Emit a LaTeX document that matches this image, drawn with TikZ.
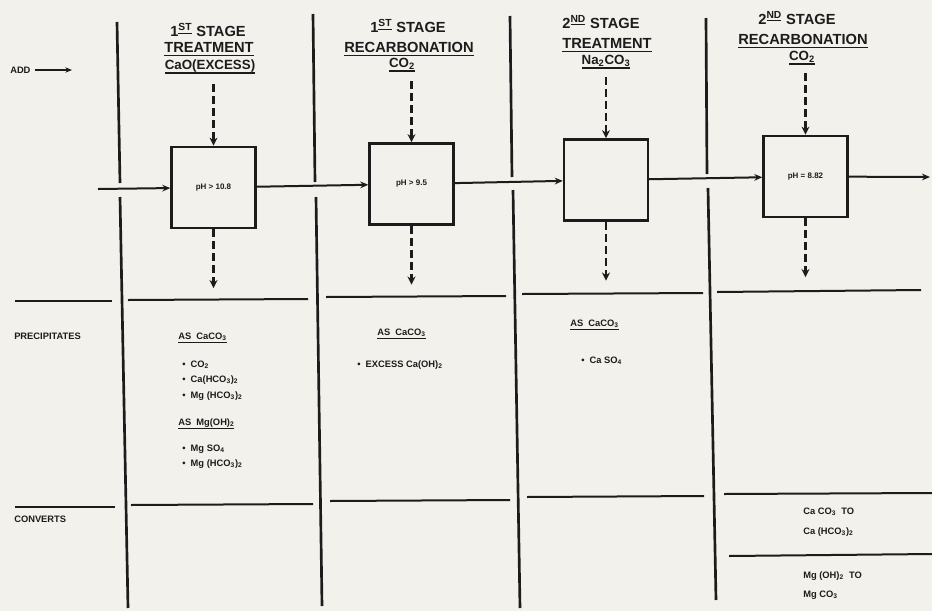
\documentclass[tikz,border=0pt]{standalone}
\usepackage{fontspec}
\setmainfont{Liberation Sans}
\usepackage{tikz}
\usetikzlibrary{arrows.meta, positioning}
\definecolor{ink}{HTML}{1C1C1C}
\definecolor{paper}{HTML}{F3F1EC}
\newcommand{\ulbold}[1]{\setbox0\hbox{#1}\leavevmode\rlap{\rule[-3pt]{\wd0}{1.1pt}}\box0}
\newcommand{\stagenum}[2]{#1\textsuperscript{\underline{#2}}}
\tikzstyle{stagehead} = [font=\bfseries\fontsize{11}{12}\selectfont, text=ink, inner sep=0pt]
\tikzstyle{dosehead}  = [font=\bfseries\fontsize{10}{11}\selectfont, text=ink, inner sep=0pt]
\tikzstyle{chemtext}  = [font=\bfseries\fontsize{7}{8}\selectfont, text=ink, anchor=west, inner sep=0pt]
\tikzstyle{unitbox}   = [draw=ink, line width=1.8pt, fill=paper, minimum width=63pt, minimum height=61pt,
                         inner sep=0pt, font=\bfseries\fontsize{6}{7}\selectfont, text=ink]
\tikzstyle{wallline}  = [draw=ink, line width=2pt]
\tikzstyle{rowrule}   = [draw=ink, line width=1.5pt]
\tikzstyle{flowarrow} = [draw=ink, line width=1.5pt, -{Stealth[length=6pt,width=5pt]}]
\tikzstyle{dosearrow} = [draw=ink, line width=2.2pt, dash pattern=on 6pt off 3pt, -{Stealth[length=6pt,width=6pt]}]

\begin{document}
\begin{tikzpicture}[x=0.75pt, y=-0.75pt]

  \useasboundingbox (0,0) rectangle (932,611);
  \fill[paper] (0,0) rectangle (932,611);

  % --- Column walls (broken where the flow line crosses) ---
  \draw[wallline] (117,22) -- (120,183);  \draw[wallline] (120,197) -- (128,608);
  \draw[wallline] (313,14) -- (315,182);  \draw[wallline] (316,197) -- (322,606);
  \draw[wallline] (510,16) -- (512,177);  \draw[wallline] (513,190) -- (520,608);
  \draw[wallline] (706,18) -- (707,174);  \draw[wallline] (708,188) -- (716,600);

  % --- Row rules ---
  \draw[rowrule] (15,301) -- (112,301);
  \draw[rowrule] (128,300) -- (308,299);
  \draw[rowrule] (326,297) -- (506,296);
  \draw[rowrule] (522,294) -- (703,293);
  \draw[rowrule] (717,292) -- (921,290);
  \draw[rowrule] (15,507) -- (115,507);
  \draw[rowrule] (131,505) -- (313,504);
  \draw[rowrule] (330,501) -- (510,500);
  \draw[rowrule] (527,497) -- (704,496);
  \draw[rowrule] (724,494) -- (932,493);
  \draw[rowrule] (729,556) -- (932,554);

  % --- Stage headings ---
  \node[stagehead] (h1)  at (208,30) {\stagenum{1}{ST} STAGE};
  \node[stagehead] (h1a) at (209,49) {\ulbold{TREATMENT}};
  \node[dosehead]  (h1b) at (210,67) {\ulbold{CaO(EXCESS)}};

  \node[stagehead] (h2)  at (408,26) {\stagenum{1}{ST} STAGE};
  \node[stagehead] (h2a) at (409,49) {\ulbold{RECARBONATION}};
  \node[dosehead]  (h2b) at (402,65) {\ulbold{CO\textsubscript{2}}};

  \node[stagehead] (h3)  at (601,22) {\stagenum{2}{ND} STAGE};
  \node[stagehead] (h3a) at (607,45) {\ulbold{TREATMENT}};
  \node[dosehead]  (h3b) at (606,62) {\ulbold{Na\textsubscript{2}CO\textsubscript{3}}};

  \node[stagehead] (h4)  at (797,18) {\stagenum{2}{ND} STAGE};
  \node[stagehead] (h4a) at (803,41) {\ulbold{RECARBONATION}};
  \node[dosehead]  (h4b) at (802,58) {\ulbold{CO\textsubscript{2}}};

  % --- Process units ---
  \node[unitbox] (b1) at (213.5,187.5) {pH > 10.8};
  \node[unitbox] (b2) at (411.5,184)   {pH > 9.5};
  \node[unitbox] (b3) at (606,180)     {};
  \node[unitbox] (b4) at (805.5,176.5) {pH = 8.82};

  % --- Main flow ---
  \coordinate (inlet)  at (98,189);
  \coordinate (outlet) at (930,177);
  \draw[flowarrow] (inlet) -- (b1);
  \draw[flowarrow] (b1) -- (b2);
  \draw[flowarrow] (b2) -- (b3);
  \draw[flowarrow] (b3) -- (b4);
  \draw[flowarrow] (b4) -- (outlet);

  % --- Chemical dose in / sludge out ---
  \foreach \b in {b1,b2,b3,b4} {
    \coordinate (\b top) at ([yshift=46pt]\b.north);
    \coordinate (\b bot) at ([yshift=-44pt]\b.south);
    \draw[dosearrow] (\b top) -- (\b.north);
    \draw[dosearrow] (\b.south) -- (\b bot);
  }

  % --- Left labels ---
  \node[chemtext] (add) at (10,70) {ADD};
  \coordinate (addtip) at (72,70);
  \draw[draw=ink, line width=1.3pt, -{Stealth[length=5pt,width=4pt]}] (add.east) ++(3pt,0) coordinate (addtail) -- (addtip);
  \node[chemtext] (prec) at (14,336) {PRECIPITATES};
  \node[chemtext] (conv) at (14,519) {CONVERTS};

  % Precipitates, 1st stage treatment
  \node[chemtext] (p1a) at (178,338) {\ulbold{AS\ \ CaCO\textsubscript{3}}};
  \node[chemtext] (p1b) at (182,365) {•\ \ CO\textsubscript{2}};
  \node[chemtext] (p1c) at (182,380) {•\ \ Ca(HCO\textsubscript{3})\textsubscript{2}};
  \node[chemtext] (p1d) at (182,396) {•\ \ Mg (HCO\textsubscript{3})\textsubscript{2}};
  \node[chemtext] (p1e) at (178,424) {\ulbold{AS\ \ Mg(OH)\textsubscript{2}}};
  \node[chemtext] (p1f) at (182,449) {•\ \ Mg SO\textsubscript{4}};
  \node[chemtext] (p1g) at (182,464) {•\ \ Mg (HCO\textsubscript{3})\textsubscript{2}};

  % Precipitates, 1st stage recarbonation
  \node[chemtext] (p2a) at (377,334) {\ulbold{AS\ \ CaCO\textsubscript{3}}};
  \node[chemtext] (p2b) at (357,365) {•\ \ EXCESS Ca(OH)\textsubscript{2}};

  % Precipitates, 2nd stage treatment
  \node[chemtext] (p3a) at (570,325) {\ulbold{AS\ \ CaCO\textsubscript{3}}};
  \node[chemtext] (p3b) at (581,361) {•\ \ Ca SO\textsubscript{4}};

  % Converts, 2nd stage recarbonation
  \node[chemtext] (c4a) at (803,512) {Ca CO\textsubscript{3}\ \ TO};
  \node[chemtext] (c4b) at (803,532) {Ca (HCO\textsubscript{3})\textsubscript{2}};
  \node[chemtext] (c4c) at (803,576) {Mg (OH)\textsubscript{2}\ \ TO};
  \node[chemtext] (c4d) at (803,595) {Mg CO\textsubscript{3}};
\end{tikzpicture}
\end{document}
